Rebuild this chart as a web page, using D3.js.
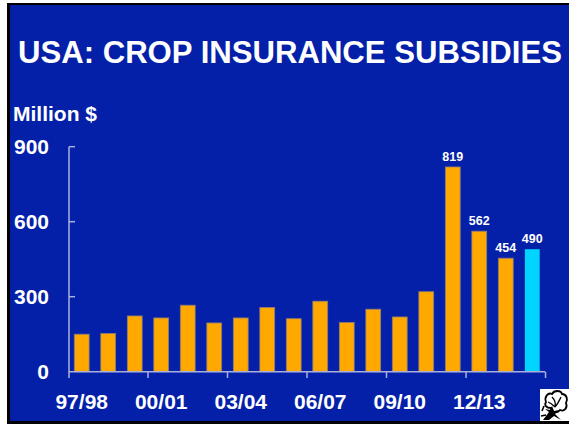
<!DOCTYPE html>
<html><head><meta charset="utf-8">
<script src="https://cdn.jsdelivr.net/npm/d3@7"></script>
<style>html,body{margin:0;padding:0;background:#fff;}svg{display:block;}</style>
</head><body>
<svg id="chart" width="569" height="426"></svg>
<script>
const categories = ["97/98","98/99","99/00","00/01","01/02","02/03","03/04","04/05","05/06","06/07","07/08","08/09","09/10","10/11","11/12","12/13","13/14","14/15"];
const values = [150,153,223,215,266,195,215,257,212,282,197,250,219,320,819,562,454,490];
const labeledValues = ["11/12","12/13","13/14","14/15"];
const tickLabels = ["97/98","00/01","03/04","06/07","09/10","12/13"];
const yTicks = [0,300,600,900];
const highlight = "14/15";

const svg = d3.select("#chart");
const font = "'Liberation Sans', Arial, Helvetica, sans-serif";
// frame
svg.append("rect").attr("x",7).attr("y",3).attr("width",562).attr("height",421).attr("fill","#000");
svg.append("rect").attr("x",10).attr("y",5).attr("width",559).attr("height",416).attr("fill","#0420A8");

const x = d3.scaleBand().domain(categories).range([69,545]).paddingInner(0.44).paddingOuter(0.2);
const y = d3.scaleLinear().domain([0,900]).range([371.7,146.7]);

// title
const title = svg.append("text").attr("x",18).attr("y",63).attr("fill","#fff")
  .attr("font-family",font).attr("font-weight","bold").attr("font-size",33)
  .text("USA: CROP INSURANCE SUBSIDIES");
const tw = title.node().getComputedTextLength();
title.attr("font-size", 33*544/tw);

svg.append("text").attr("x",13).attr("y",121).attr("fill","#fff")
  .attr("font-family",font).attr("font-weight","bold").attr("font-size",21)
  .text("Million $");

// bars
svg.selectAll("rect.bar").data(categories).join("rect").attr("class","bar")
  .attr("x",d=>x(d)).attr("width",x.bandwidth())
  .attr("y",(d,i)=>y(values[i])).attr("height",(d,i)=>y(0)-y(values[i]))
  .attr("fill",d=>d===highlight?"#00D4FF":"#FFA800")
  .attr("stroke",d=>d===highlight?"none":"#8a7c78").attr("stroke-width",0.8);

// value labels
svg.selectAll("text.vl").data(categories.filter(c=>labeledValues.includes(c))).join("text").attr("class","vl")
  .attr("x",d=>x(d)+x.bandwidth()/2).attr("y",d=>y(values[categories.indexOf(d)])-6)
  .attr("text-anchor","middle").attr("fill","#fff").attr("font-family",font)
  .attr("font-weight","bold").attr("font-size",12.5)
  .text(d=>values[categories.indexOf(d)]);

// axes
const axisColor = "#A8B0DC";
const gy = svg.append("g").attr("transform","translate(69,0)");
gy.append("line").attr("x1",0).attr("x2",0).attr("y1",y(900)).attr("y2",378).attr("stroke",axisColor).attr("stroke-width",1.5);
gy.selectAll("line.yt").data(yTicks.filter(d=>d>0)).join("line").attr("class","yt")
  .attr("x1",0).attr("x2",6).attr("y1",d=>y(d)).attr("y2",d=>y(d)).attr("stroke",axisColor).attr("stroke-width",1.5);
gy.selectAll("text.yl").data(yTicks).join("text").attr("class","yl")
  .attr("x",-20).attr("y",d=>y(d)).attr("dy","0.36em").attr("text-anchor","end")
  .attr("fill","#fff").attr("font-family",font).attr("font-weight","bold").attr("font-size",21)
  .text(d=>d);

const step = x.step();
const gx = svg.append("g");
gx.append("line").attr("x1",69).attr("x2",545).attr("y1",y(0)).attr("y2",y(0)).attr("stroke",axisColor).attr("stroke-width",1.5);
const tickXs = d3.range(1,7).map(k=>x(categories[3*k-1]) + x.bandwidth() + (step - x.bandwidth())/2 );
gx.selectAll("line.xt").data(tickXs).join("line").attr("class","xt")
  .attr("x1",d=>d).attr("x2",d=>d).attr("y1",y(0)).attr("y2",378).attr("stroke",axisColor).attr("stroke-width",1.5);
gx.selectAll("text.xl").data(tickLabels).join("text").attr("class","xl")
  .attr("x",d=>x(d)+x.bandwidth()/2).attr("y",409).attr("text-anchor","middle")
  .attr("fill","#fff").attr("font-family",font).attr("font-weight","bold").attr("font-size",21)
  .text(d=>d);

// cotton icon
const ic = svg.append("g").attr("transform","translate(540,389)");
ic.append("rect").attr("width",29).attr("height",32).attr("fill","#fff");
ic.append("path").attr("d","M6 13 C4 8 8 3 12 5 C14 1 21 1 22 5 C27 5 28 11 26 14 C28 19 24 23 20 21 C17 25 11 23 11 19 C6 19 4 16 6 13 Z")
  .attr("fill","#fff").attr("stroke","#000").attr("stroke-width",1.8);
ic.append("path").attr("d","M12 8 C15 11 16 14 15 18 M21 8 C19 12 18 15 15 18 M8 13 C11 14 13 16 15 18").attr("fill","none").attr("stroke","#000").attr("stroke-width",1.3);
ic.append("path").attr("d","M3 31 L9 23 L5 20 L10 21 L12 17 L14 22 L19 21 L15 25 L21 31 L14 27 L9 31 Z").attr("fill","#000");
ic.append("path").attr("d","M4 17 L2 22 M1 27 L6 26").attr("stroke","#000").attr("stroke-width",1.6);
</script>
</body></html>
